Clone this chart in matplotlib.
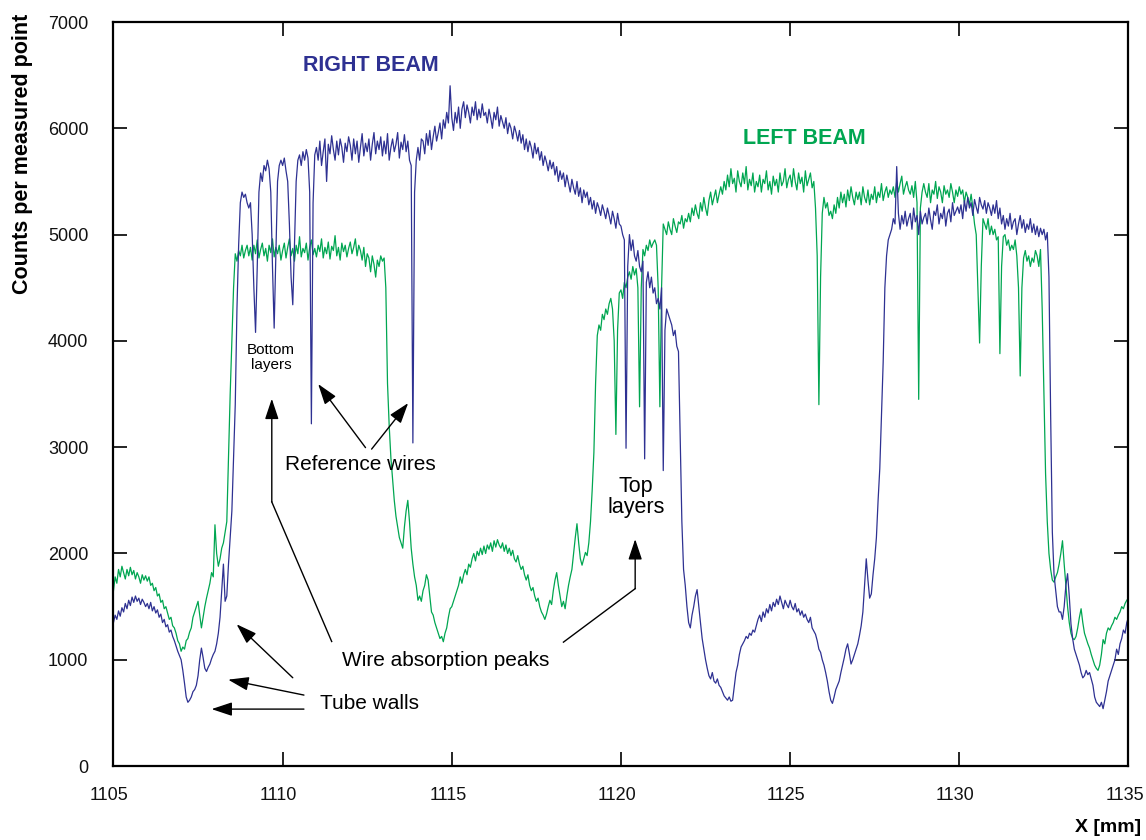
import numpy as np
import matplotlib
matplotlib.use("Agg")
import matplotlib.pyplot as plt
from matplotlib.transforms import ScaledTranslation

plt.rcParams['font.family'] = ['Liberation Sans', 'DejaVu Sans']

# X positions of the measurement (mm), 0.05 mm sampling
x_start, x_stop, x_step = 1105.0, 1135.0, 0.05

# RIGHT BEAM counts (blue), one row per mm
right_beam = [
    1350,1420,1380,1460,1410,1490,1450,1530,1480,1560,1510,1590,1540,1600,1550,1580,1520,1570,1540,1500,
    1530,1480,1540,1460,1500,1440,1470,1400,1430,1350,1380,1310,1330,1260,1280,1220,1180,1130,1080,1040,
    1000,900,780,650,600,620,650,700,720,760,850,1000,1110,1020,920,890,930,960,1010,1050,
    1080,1150,1250,1400,1650,1900,1550,1600,1900,2150,2400,2900,3400,4300,4900,5300,5400,5350,5380,5300,
    5250,5300,5000,4500,4080,4700,5400,5580,5500,5650,5600,5700,5620,5400,4700,4120,4800,5500,5650,5700,
    5650,5720,5600,5500,5100,4600,4340,4900,5500,5700,5750,5650,5780,5700,5800,5720,5400,3220,5300,5750,
    5820,5700,5880,5650,5780,5900,5500,5850,5760,5930,5800,5700,5880,5750,5900,5820,5680,5860,5780,5920,
    5840,5700,5900,5760,5880,5680,5820,5950,5740,5860,5780,5900,5700,5850,5960,5760,5880,5800,5920,5740,
    5880,5760,5950,5700,5820,5900,5780,5850,5960,5720,5870,5800,5940,5780,5880,5700,5650,3040,5400,5700,
    5820,5700,5900,5880,5760,5950,5840,5980,5800,5920,6020,5880,5960,6050,5900,6080,6000,6150,6050,6400,
    6100,5980,6150,6050,6200,6000,6180,6250,6100,6220,6150,6050,6200,6120,6250,6080,6180,6100,6230,6120,
    6150,6050,6180,6100,6000,6150,6080,6200,6020,6120,6060,6000,6100,5950,6050,6000,5900,6020,5960,5880,
    5980,5860,5940,5800,5900,5780,5880,5820,5720,5860,5760,5820,5700,5780,5650,5740,5680,5600,5700,5620,
    5680,5560,5640,5500,5600,5520,5580,5450,5560,5480,5400,5520,5440,5380,5500,5360,5440,5300,5420,5350,
    5400,5280,5350,5240,5320,5200,5300,5250,5180,5280,5220,5150,5250,5180,5100,5220,5150,5060,5200,5100,
    5080,5000,4950,2990,4700,5000,4850,4950,4800,4750,4850,4700,4650,4750,2890,4550,4650,4500,4600,4450,
    4500,4350,4400,4300,4500,2780,4100,4300,4250,4200,4150,4050,4100,3950,3900,3100,2300,1850,1700,1500,
    1350,1300,1420,1500,1600,1660,1500,1350,1200,1100,1000,920,850,820,880,800,780,820,760,740,
    700,660,640,620,650,610,620,750,880,950,1050,1120,1150,1180,1220,1200,1250,1230,1280,1260,
    1320,1380,1420,1360,1450,1400,1480,1440,1520,1460,1540,1500,1570,1520,1600,1540,1480,1560,1520,1490,
    1560,1500,1470,1530,1450,1480,1420,1460,1400,1430,1380,1350,1400,1300,1270,1240,1180,1100,1070,1000,
    950,880,800,700,620,590,650,720,760,800,880,950,1020,1100,1150,1060,960,1000,1050,1100,
    1150,1230,1320,1450,1700,1950,1750,1580,1620,1800,1950,2150,2500,2800,3300,3800,4500,4800,4950,5000,
    5050,5150,5100,5640,5200,5050,5180,5100,5220,5080,5150,5200,5050,5250,5120,5180,5000,5220,5100,5160,
    5200,5100,5250,5140,5050,5220,5180,5280,5100,5200,5150,5260,5080,5200,5240,5120,5300,5180,5220,5260,
    5200,5280,5150,5320,5220,5350,5250,5300,5180,5330,5260,5200,5350,5280,5240,5320,5200,5300,5250,5180,
    5280,5200,5320,5150,5250,5100,5180,5050,5150,5080,5200,5050,5120,5150,5000,5100,5180,5060,5140,5020,
    5100,5050,5150,5020,5100,5000,5080,4980,5060,5000,5050,4950,5020,4600,3300,2200,1800,1650,1500,1450,
    1450,1380,1500,1700,1810,1600,1340,1200,1100,1050,1000,950,880,830,850,900,860,880,820,760,
    650,600,580,560,600,540,620,700,800,850,900,950,1000,1100,1050,1150,1200,1280,1250,1350,
    1400,
]

# LEFT BEAM counts (green), one row per mm
left_beam = [
    1650,1780,1720,1850,1780,1880,1820,1760,1850,1790,1870,1800,1840,1760,1820,1780,1720,1800,1750,1790,
    1740,1780,1700,1720,1650,1680,1600,1620,1540,1560,1480,1500,1440,1380,1400,1320,1300,1250,1180,1150,
    1080,1120,1100,1180,1200,1260,1300,1400,1450,1500,1550,1420,1300,1400,1500,1580,1650,1720,1820,1780,
    2270,2000,1880,1950,2050,2100,2200,2300,2900,3500,4000,4500,4820,4750,4850,4800,4900,4780,4850,4900,
    4800,4880,4760,4900,4820,4950,4780,4860,4920,4800,4870,4750,4900,4830,4960,4790,4880,4820,4900,4760,
    4850,4920,4780,4880,4960,4800,4870,4750,4900,4820,4980,4790,4870,4830,4920,4760,4880,4950,4810,4870,
    4790,4900,4840,4960,4780,4880,4820,4930,4770,4890,4850,4990,4800,4880,4760,4920,4840,4900,4790,4870,
    4930,4820,4880,4960,4800,4900,4850,4760,4880,4700,4820,4780,4650,4800,4720,4600,4760,4700,4800,4750,
    4780,4500,3600,3200,2900,2700,2500,2350,2250,2150,2100,2050,2250,2400,2500,2300,2050,1900,1780,1700,
    1560,1600,1550,1650,1700,1800,1750,1600,1450,1420,1350,1300,1250,1200,1220,1170,1250,1300,1400,1480,
    1500,1550,1600,1650,1700,1780,1720,1800,1850,1800,1900,1870,1950,2000,1930,2020,1980,2050,1990,2070,
    2000,2080,2040,2100,2020,2120,2060,2130,2080,2050,2100,2020,2080,2000,2050,1980,2030,1950,1920,1980,
    1900,1850,1880,1800,1750,1800,1700,1650,1680,1600,1550,1580,1500,1450,1420,1380,1430,1500,1560,1520,
    1650,1750,1820,1700,1600,1500,1550,1480,1600,1700,1780,1850,2000,2150,2280,2100,1950,1890,1950,2010,
    1980,2100,2300,2600,2950,3600,4050,4150,4100,4250,4200,4300,4250,4350,4400,4300,4000,3120,4100,4450,
    4480,4400,4550,4500,4600,4650,4580,4700,4620,4680,4500,3380,4500,4860,4800,4900,4850,4950,4880,4920,
    4950,4900,4500,3380,4500,5100,5050,5000,5120,5050,5000,5150,5080,5020,5120,5100,5180,5060,5150,5120,
    5200,5120,5250,5180,5280,5200,5150,5300,5220,5350,5250,5180,5320,5400,5280,5350,5420,5300,5380,5450,
    5380,5500,5420,5560,5450,5620,5480,5530,5400,5600,5500,5450,5580,5480,5640,5420,5520,5460,5580,5400,
    5500,5450,5560,5400,5520,5480,5600,5420,5500,5380,5550,5460,5520,5400,5580,5460,5500,5620,5440,5520,
    5560,5450,5620,5500,5420,5580,5480,5540,5400,5600,5460,5520,5580,5440,5500,5250,4800,3400,4600,5200,
    5350,5250,5300,5180,5220,5150,5280,5200,5350,5250,5400,5300,5380,5260,5420,5320,5450,5350,5280,5400,
    5330,5400,5280,5450,5350,5300,5420,5280,5380,5330,5450,5300,5400,5350,5480,5320,5400,5450,5350,5420,
    5380,5450,5350,5500,5400,5480,5550,5380,5450,5500,5420,5380,5460,5350,5500,5300,3450,5250,5400,5480,
    5400,5350,5480,5300,5420,5380,5500,5340,5450,5400,5300,5460,5380,5420,5350,5480,5400,5300,5420,5360,
    5450,5380,5420,5300,5400,5350,5280,5380,5250,5100,5000,4500,3980,4700,5150,5100,5050,5150,5000,5080,
    5000,5050,4950,4980,3880,4700,4980,5000,4900,4950,4850,4900,4860,4950,4800,4500,3670,4500,4780,4850,
    4750,4800,4700,4780,4740,4850,4800,4700,4860,4300,3500,2750,2300,2000,1850,1750,1730,1780,1820,1900,
    2000,2120,1900,1700,1500,1350,1250,1200,1190,1220,1300,1400,1480,1350,1250,1200,1150,1110,1050,1000,
    950,920,900,950,1050,1190,1150,1250,1300,1280,1320,1350,1400,1380,1420,1450,1500,1480,1530,1560,
    1580,
]

x_ticks = [1105, 1110, 1115, 1120, 1125, 1130, 1135]
y_ticks = [0, 1000, 2000, 3000, 4000, 5000, 6000, 7000]

BLUE = '#2e3192'
GREEN = '#00a651'

x = np.round(np.arange(len(right_beam)) * x_step + x_start, 3)

fig = plt.figure(figsize=(11.46, 8.40), dpi=100)
ax = fig.add_axes([0.099, 0.088, 0.8857, 0.8858])

ax.plot(x, left_beam, color=GREEN, lw=0.9)
ax.plot(x, right_beam, color=BLUE, lw=0.9)

ax.set_xlim(x_start, x_stop)
ax.set_ylim(0, 7000)
ax.set_xticks(x_ticks)
ax.set_yticks(y_ticks)
ax.tick_params(direction='in', length=10, width=1.2, top=True, right=True,
               labelsize=13, labelcolor='#111111')
ax.tick_params(axis='y', pad=18)
ax.tick_params(axis='x', pad=15)
for s in ax.spines.values():
    s.set_linewidth(1.6)
shift = ScaledTranslation(-4 / 100, 0, fig.dpi_scale_trans)
for lab in ax.get_xticklabels():
    lab.set_transform(lab.get_transform() + shift)

fig.text(0.0195, 0.984, 'Counts per measured point', rotation=90, ha='center', va='top',
         fontsize=15.5, fontweight='bold')
fig.text(0.9956, 0.0143, 'X [mm]', ha='right', va='center', fontsize=14, fontweight='bold')

# Beam labels
ax.text(1112.61, 6595, 'RIGHT BEAM', color=BLUE, fontsize=15.5, fontweight='bold',
        ha='center', va='center')
ax.text(1125.41, 5908, 'LEFT BEAM', color=GREEN, fontsize=15.5, fontweight='bold',
        ha='center', va='center')

# Annotations
ax.text(1109.66, 3848, 'Bottom\nlayers', fontsize=11, ha='center', va='center', linespacing=1.1)
ax.text(1112.29, 2841, 'Reference wires', fontsize=15, ha='center', va='center')
ax.text(1120.44, 2531, 'Top\nlayers', fontsize=15.5, ha='center', va='center', linespacing=1.05)
ax.text(1114.83, 997, 'Wire absorption peaks', fontsize=15, ha='center', va='center')
ax.text(1112.58, 593, 'Tube walls', fontsize=15, ha='center', va='center')

aprops = dict(arrowstyle='-|>,head_length=0.9,head_width=0.3', color='black', lw=1.0,
              mutation_scale=14, shrinkA=0, shrinkB=0)

# Reference wires
ax.annotate('', xy=(1111.05, 3594), xytext=(1112.45, 2996), arrowprops=aprops)
ax.annotate('', xy=(1113.71, 3415), xytext=(1112.63, 2982), arrowprops=aprops)

# Wire absorption peaks -> bottom layers
ax.plot([1111.45, 1109.68], [1172, 2485], color='black', lw=1.0)
ax.annotate('', xy=(1109.68, 3456), xytext=(1109.68, 2485), arrowprops=aprops)
# Wire absorption peaks -> top layers
ax.plot([1118.3, 1120.42], [1166, 1669], color='black', lw=1.0)
ax.annotate('', xy=(1120.42, 2135), xytext=(1120.42, 1669), arrowprops=aprops)

# Tube walls
ax.annotate('', xy=(1108.64, 1334), xytext=(1110.3, 831), arrowprops=aprops)
ax.annotate('', xy=(1108.39, 813), xytext=(1110.63, 668), arrowprops=aprops)
ax.annotate('', xy=(1107.9, 536), xytext=(1110.63, 536), arrowprops=aprops)

fig.savefig('out.png', dpi=100)
